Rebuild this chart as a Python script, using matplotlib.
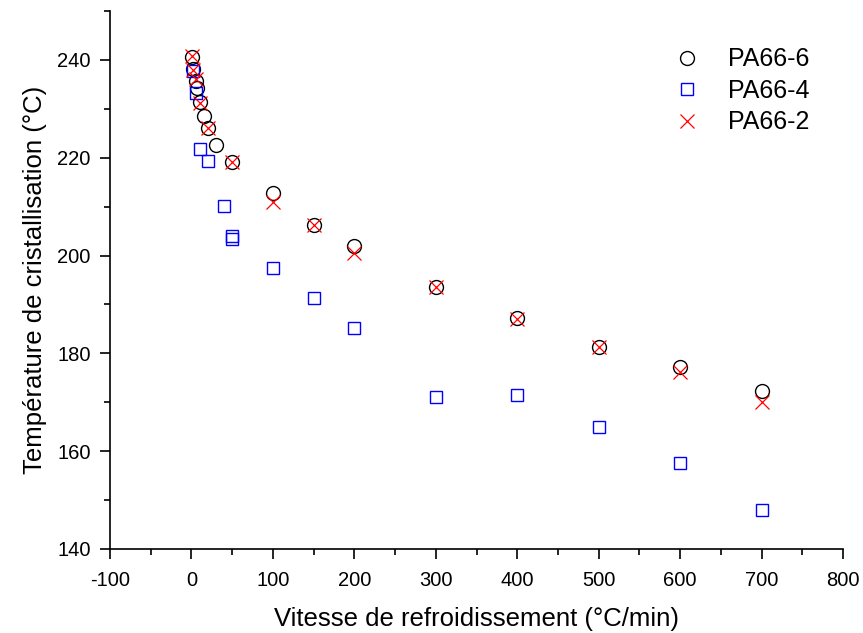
import numpy as np
import matplotlib.pyplot as plt
from matplotlib.ticker import MultipleLocator

plt.rcParams['font.family'] = ['Liberation Sans', 'DejaVu Sans']
plt.rcParams['axes.unicode_minus'] = False

# PA66-6 (circles)
x6 = [1, 2, 5, 7, 10, 15, 20, 30, 50, 100, 150, 200, 300, 400, 500, 600, 700]
y6 = [240.6, 238.1, 235.7, 234.3, 231.3, 228.5, 226.0, 222.6, 219.2, 212.8,
      206.2, 202.0, 193.5, 187.3, 181.4, 177.2, 172.3]

# PA66-4 (squares)
x4 = [2, 5, 10, 20, 40, 50, 50, 100, 150, 200, 300, 400, 500, 600, 700]
y4 = [237.7, 233.2, 221.7, 219.3, 210.1, 203.9, 203.3, 197.5, 191.3, 185.1,
      171.0, 171.4, 165.0, 157.6, 147.9]

# PA66-2 (crosses)
x2 = [1, 2, 5, 10, 20, 50, 100, 150, 200, 300, 400, 500, 600, 700]
y2 = [240.8, 238.0, 236.1, 231.2, 226.0, 219.2, 210.9, 206.2, 200.6, 193.6,
      187.1, 181.2, 176.1, 170.1]

fig = plt.figure(figsize=(8.63, 6.33), dpi=100)
ax = fig.add_axes([110 / 863, 1 - 549 / 633, 733 / 863, 538 / 633])

ax.plot(x6, y6, 'o', mfc='none', mec='black', ms=10, mew=1.0, label='PA66-6')
ax.plot(x4, y4, 's', mfc='none', mec='#0000ff', ms=8.5, mew=1.0, label='PA66-4')
ax.plot(x2, y2, 'x', color='#ff0000', ms=10, mew=0.9, label='PA66-2')

ax.set_xlim(-100, 800)
ax.set_ylim(140, 250)
ax.xaxis.set_major_locator(MultipleLocator(100))
ax.xaxis.set_minor_locator(MultipleLocator(50))
ax.yaxis.set_minor_locator(MultipleLocator(10))
ax.set_yticks([140, 160, 180, 200, 220, 240])
ax.tick_params(which='major', direction='out', length=7, width=1.2, labelsize=14.5)
ax.tick_params(which='minor', direction='out', length=4, width=1.2)
ax.tick_params(axis='x', which='major', pad=9)
ax.tick_params(axis='y', which='major', pad=7)
ax.spines['top'].set_visible(False)
ax.spines['right'].set_visible(False)
ax.spines['left'].set_linewidth(1.2)
ax.spines['bottom'].set_linewidth(1.2)

ax.set_xlabel('Vitesse de refroidissement (°C/min)', fontsize=18.5, labelpad=12)
ax.set_ylabel('Température de cristallisation (°C)', fontsize=18.5, labelpad=7)

ax.legend(loc='upper left', bbox_to_anchor=(0.729, 0.974), frameon=False,
          fontsize=18, handlelength=1.6, handletextpad=0.85, labelspacing=0.3)

fig.savefig('out.png', dpi=100)
